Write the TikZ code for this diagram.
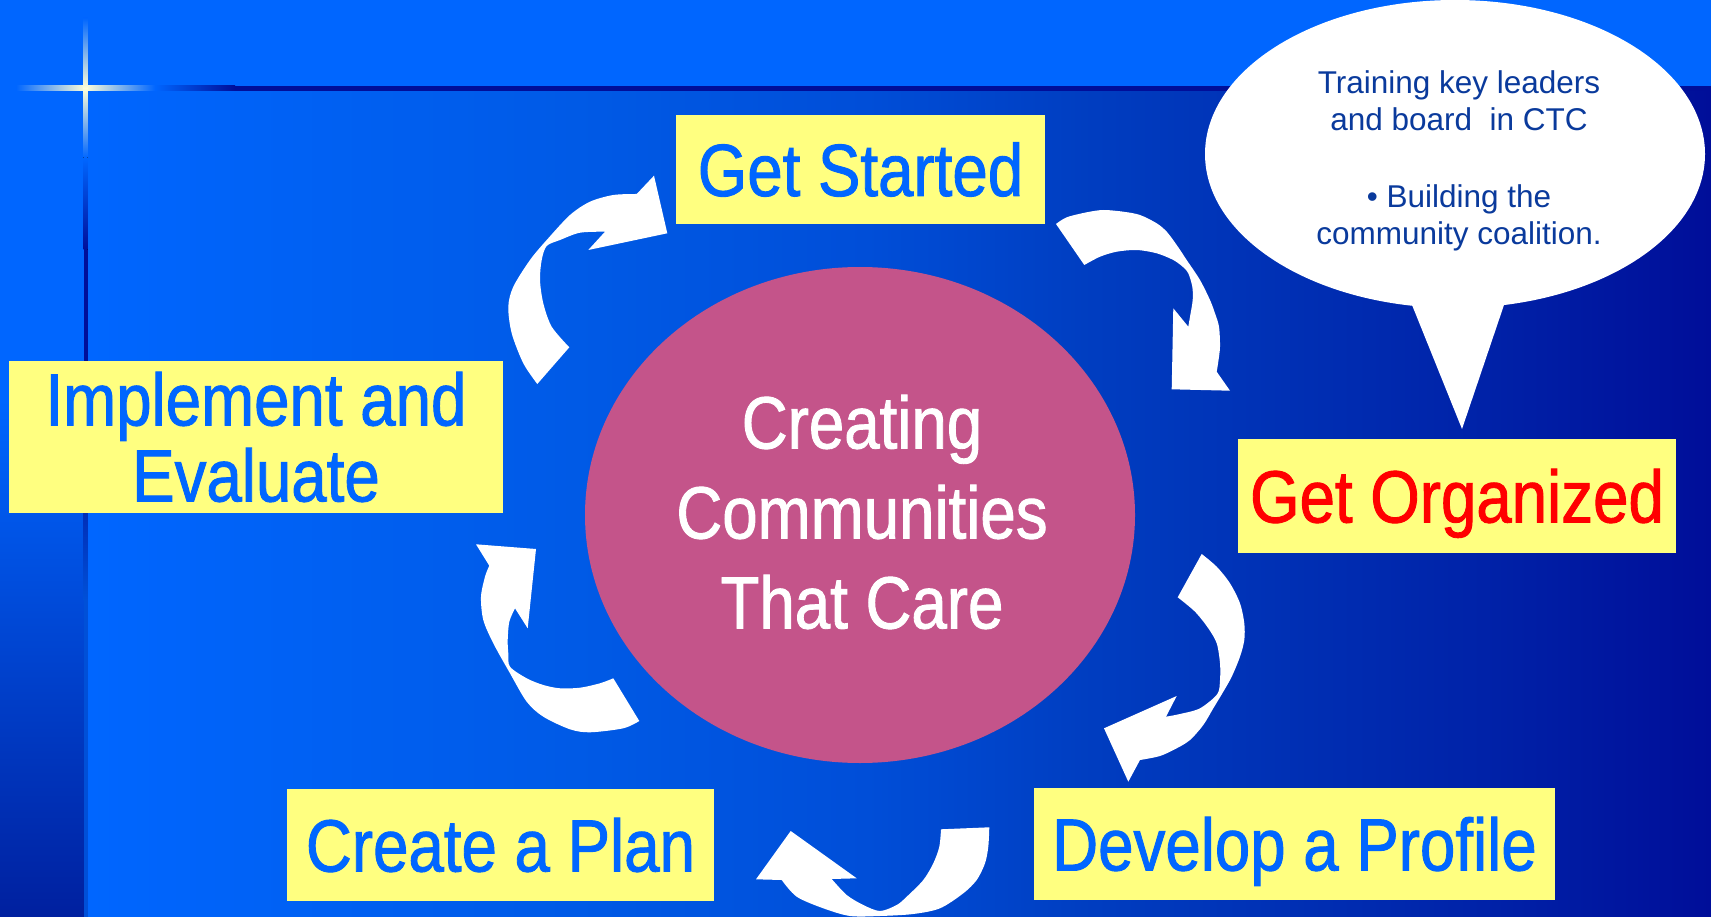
\documentclass[tikz,border=0pt]{standalone}
\usepackage{fontspec}
\setmainfont{Liberation Sans}
\newfontfamily\condfont[FakeStretch=0.86,FakeBold=1.2]{Liberation Sans}
\usetikzlibrary{shapes.geometric}
\definecolor{bgblue}{HTML}{0066FF}
\definecolor{navy}{HTML}{000E99}
\definecolor{boxyellow}{HTML}{FFFF80}
\definecolor{lblblue}{HTML}{0066FF}
\definecolor{lblred}{HTML}{FF0000}
\definecolor{pinkc}{HTML}{C4548A}
\definecolor{bubtext}{HTML}{0A3A9C}
\definecolor{starc}{HTML}{FFFFD8}
\definecolor{gA}{HTML}{005AE6}
\definecolor{gB}{HTML}{004ED8}
\definecolor{gC}{HTML}{003DC0}
\definecolor{gD}{HTML}{0022A8}
\definecolor{leftdark}{HTML}{00209F}
\definecolor{linemid}{HTML}{0050D8}
\pgfdeclarehorizontalshading{mainbg}{100bp}{color(0bp)=(bgblue); color(25bp)=(bgblue); color(40bp)=(gA); color(49bp)=(gB); color(56bp)=(gC); color(68bp)=(gD); color(75bp)=(navy); color(100bp)=(navy)}
\begin{document}
\begin{tikzpicture}[x=1pt,y=-1pt,
  lbl/.style={fill=boxyellow, inner sep=0pt, text=lblblue, align=center,
    font=\condfont\fontsize{74}{76}\selectfont},
  oneline/.style={text height=53pt, text depth=0pt},
  blockarrow/.style={fill=white}]
\useasboundingbox (0,0) rectangle (1711,917);
% background
\fill[bgblue] (0,0) rectangle (1711,917);
\fill[shading=mainbg] (88,88) rectangle (1711,917);
\fill[top color=bgblue, bottom color=leftdark] (0,400) rectangle (84,917);
% vertical rule
\fill[top color=bgblue, bottom color=navy] (83.5,158) rectangle (87.5,250);
\fill[navy] (83.5,250) rectangle (87.5,430);
\fill[top color=navy, bottom color=linemid] (83.5,430) rectangle (87.5,600);
\fill[linemid] (83.5,600) rectangle (87.5,917);
% horizontal rule
\fill[left color=bgblue, right color=navy] (155,86) rectangle (235,91);
\fill[navy] (235,86) rectangle (1711,91);
% star
\fill[left color=bgblue, right color=bgblue, middle color=starc] (16,86) rectangle (155,91);
\fill[top color=bgblue, bottom color=bgblue, middle color=starc] (83.3,18) rectangle (87.5,158);

% speech bubble
\fill[white] (1410,300) -- (1462,429) -- (1506,299) -- cycle;
\node[ellipse, fill=white, minimum width=500pt, minimum height=308pt, inner sep=0pt] (bub) at (1455,154) {};
\node[text=bubtext, align=center, font=\fontsize{31.5}{37}\selectfont, inner sep=0pt] (bubtxt) at (1459,161)
  {Training key leaders\\and board~~in CTC\\[40pt]\textbullet{} Building the\\community coalition.};

% central ellipse
\node[ellipse, fill=pinkc, minimum width=550pt, minimum height=496pt, inner sep=0pt] (ctcshape) at (860,515) {};
\node[text=white, align=center, inner sep=0pt, font=\condfont\fontsize{74}{90}\selectfont] (ctc) at (862,512)
  {Creating\\Communities\\That Care};

% curved arrows
\fill[blockarrow] plot[smooth] coordinates {(537.3,384) (523.3,363.3) (511.7,333.3) (508.3,306.7) (513.3,286.7) (530,260) (546.7,240) (570,215) (590,201.7) (613.3,195) (636.7,194)}
  -- (654,175.7) -- (667.3,233.3) -- (588.3,250) -- (605,231.7)
  -- plot[smooth] coordinates {(605,231.7) (580,232.7) (560,240) (546.7,246) (541.7,260) (540,280) (543.3,303.3) (551.7,326.7) (569.3,347.3)} -- cycle;

\fill[blockarrow] plot[smooth] coordinates {(1056,224) (1066.7,217.3) (1086.7,212.3) (1103.3,210) (1123.3,211.7) (1140,215) (1156.7,223.3) (1166.7,231.7) (1176.7,245) (1186.7,260) (1200,280) (1210,300) (1215,313.3) (1219,326.7) (1220,346.7) (1218.3,361.7) (1216.7,371.7)}
  -- (1230,390.7) -- (1171.7,389.3) -- (1173.3,308.3) -- (1188.3,326.7)
  -- plot[smooth] coordinates {(1188.3,326.7) (1190,316.7) (1192.7,300) (1192.3,286.7) (1188.3,273.3) (1183.3,267.3) (1173.3,260) (1156.7,253.3) (1136.7,250) (1116.7,251.7) (1100,256.7) (1084.3,265)} -- cycle;

\fill[blockarrow] plot[smooth] coordinates {(1201.7,554) (1216.7,566.7) (1230,583.3) (1240,603.3) (1244.3,623.3) (1244.3,640) (1240,656.7) (1231.7,676.7) (1223.3,691.7) (1213.3,708.3) (1203.3,725) (1190,740) (1176.7,748.3) (1160,756) (1140,760)}
  -- (1128.3,781.7) -- (1104,728.3) -- (1176.7,696) -- (1166,716.7)
  -- plot[smooth] coordinates {(1166,716.7) (1180,714) (1200,708.3) (1217.3,694) (1220,680) (1220,663.3) (1216.7,643.3) (1208.3,628.3) (1195,611.7) (1177.7,597.3)} -- cycle;

\fill[blockarrow] plot[smooth] coordinates {(989.3,827.3) (988.3,846.7) (985,863.3) (976.7,880) (963.3,893.3) (940,908.3) (913.3,914) (880,916) (850,916) (823.3,908.3) (796.7,896.7) (781.7,880)}
  -- (756,879.3) -- (790.7,831) -- (856.7,878.3) -- (831.7,879)
  -- plot[smooth] coordinates {(831.7,879) (846.7,895) (863.3,905) (880,911) (896.7,905) (906.7,896.7) (923.3,880) (933.3,863.3) (939.3,846.7) (941,829.3)} -- cycle;

\fill[blockarrow] plot[smooth] coordinates {(639.3,721) (623.3,728.3) (590,732.3) (570,729.3) (543.3,716.7) (526.7,701.7) (510,673.3) (493.3,643.3) (483.3,620) (481,596.7) (485,576.7) (489.3,565.7)}
  -- (476,544.3) -- (536,549) -- (527.7,628.3) -- (515,608.3)
  -- plot[smooth] coordinates {(515,608.3) (509.3,621.7) (507.7,640) (508.3,653.3) (510,666.7) (526.7,678.3) (543.3,685) (560,688.3) (580,687.7) (600,683.3) (613.3,678.3)} -- cycle;

% step boxes
\node[lbl, oneline, minimum width=369pt, minimum height=109pt] (gs) at (860.5,169.5) {Get Started};
\node[lbl, oneline, text=lblred, minimum width=438pt, minimum height=114pt] (go) at (1457,496) {Get Organized};
\node[lbl, oneline, minimum width=521pt, minimum height=112pt] (dp) at (1294.5,844) {Develop a Profile};
\node[lbl, oneline, minimum width=427pt, minimum height=112pt] (cp) at (500.5,845) {Create a Plan};
\node[lbl, minimum width=494pt, minimum height=152pt] (ie) at (256,437) {Implement and\\Evaluate};
\end{tikzpicture}
\end{document}
